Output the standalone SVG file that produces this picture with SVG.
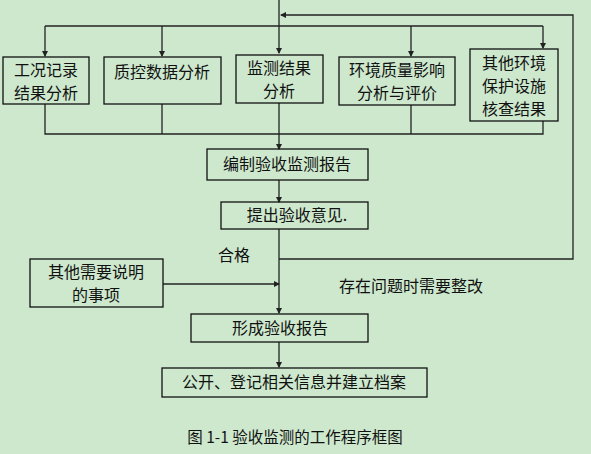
<svg xmlns="http://www.w3.org/2000/svg" width="591" height="454" viewBox="0 0 591 454">
<defs>
<marker id="ah" markerWidth="6" markerHeight="6" refX="5" refY="3" orient="auto" markerUnits="userSpaceOnUse">
<path d="M0,0 L6,3 L0,6 Z" fill="#222"/>
</marker>
<style>
.box{fill:none;stroke:#111;stroke-width:1.3}
.ln{fill:none;stroke:#222;stroke-width:1.3}
.t{font-family:"Noto Sans CJK SC","Noto Sans",sans-serif;font-size:16px;fill:#111;text-anchor:middle}
.c{font-family:"Noto Sans CJK SC","Noto Sans",sans-serif;font-size:15.5px;fill:#111;text-anchor:middle}
</style>
</defs>
<rect width="591" height="454" fill="#cde8cd"/>
<g id="connectors">
<line class="ln" x1="279" y1="0" x2="279" y2="53" marker-end="url(#ah)"/>
<line class="ln" x1="45" y1="26" x2="543" y2="26"/>
<line class="ln" x1="45" y1="26" x2="45" y2="56" marker-end="url(#ah)"/>
<line class="ln" x1="162" y1="26" x2="162" y2="56" marker-end="url(#ah)"/>
<line class="ln" x1="411" y1="26" x2="411" y2="56" marker-end="url(#ah)"/>
<line class="ln" x1="543" y1="26" x2="543" y2="48" marker-end="url(#ah)"/>
<polyline class="ln" points="45,104 45,134 543,134 543,121"/>
<line class="ln" x1="162" y1="104" x2="162" y2="134"/>
<line class="ln" x1="411" y1="105" x2="411" y2="134"/>
<line class="ln" x1="279" y1="103" x2="279" y2="149" marker-end="url(#ah)"/>
<line class="ln" x1="279" y1="180" x2="279" y2="202" marker-end="url(#ah)"/>
<line class="ln" x1="279" y1="229" x2="279" y2="313" marker-end="url(#ah)"/>
<polyline class="ln" points="279,259 573,259 573,15 281,15" marker-end="url(#ah)"/>
<line class="ln" x1="163" y1="284" x2="279" y2="284" marker-end="url(#ah)"/>
<line class="ln" x1="279" y1="342" x2="279" y2="367" marker-end="url(#ah)"/>
<text class="t" x="234" y="261">合格</text>
<text class="t" x="411" y="292">存在问题时需要整改</text>
</g>
<g id="n1"><rect class="box" x="3" y="57" width="86" height="47"/><text class="t" x="46" y="75.5">工况记录</text><text class="t" x="46" y="98.5">结果分析</text></g>
<g id="n2"><rect class="box" x="104" y="57" width="117" height="47"/><text class="t" x="162" y="78">质控数据分析</text></g>
<g id="n3"><rect class="box" x="236" y="55" width="87" height="48"/><text class="t" x="279" y="74">监测结果</text><text class="t" x="279" y="97">分析</text></g>
<g id="n4"><rect class="box" x="339" y="57" width="116" height="48"/><text class="t" x="397" y="76">环境质量影响</text><text class="t" x="397" y="99">分析与评价</text></g>
<g id="n5"><rect class="box" x="470" y="49" width="88" height="72"/><text class="t" x="514" y="68.5">其他环境</text><text class="t" x="514" y="91.5">保护设施</text><text class="t" x="514" y="114.5">核查结果</text></g>
<g id="n6"><rect class="box" x="207" y="149" width="161" height="31"/><text class="t" x="287" y="170">编制验收监测报告</text></g>
<g id="n7"><rect class="box" x="221" y="202" width="147" height="27"/><text class="t" x="297" y="221">提出验收意见.</text></g>
<g id="n8"><rect class="box" x="30" y="259" width="133" height="48"/><text class="t" x="96" y="278">其他需要说明</text><text class="t" x="96" y="301">的事项</text></g>
<g id="n9"><rect class="box" x="191" y="314" width="177" height="28"/><text class="t" x="280" y="334">形成验收报告</text></g>
<g id="n10"><rect class="box" x="162" y="368" width="265" height="29"/><text class="t" x="294" y="388">公开、登记相关信息并建立档案</text></g>
<text class="c" x="295" y="443">图 1-1 验收监测的工作程序框图</text>
</svg>
